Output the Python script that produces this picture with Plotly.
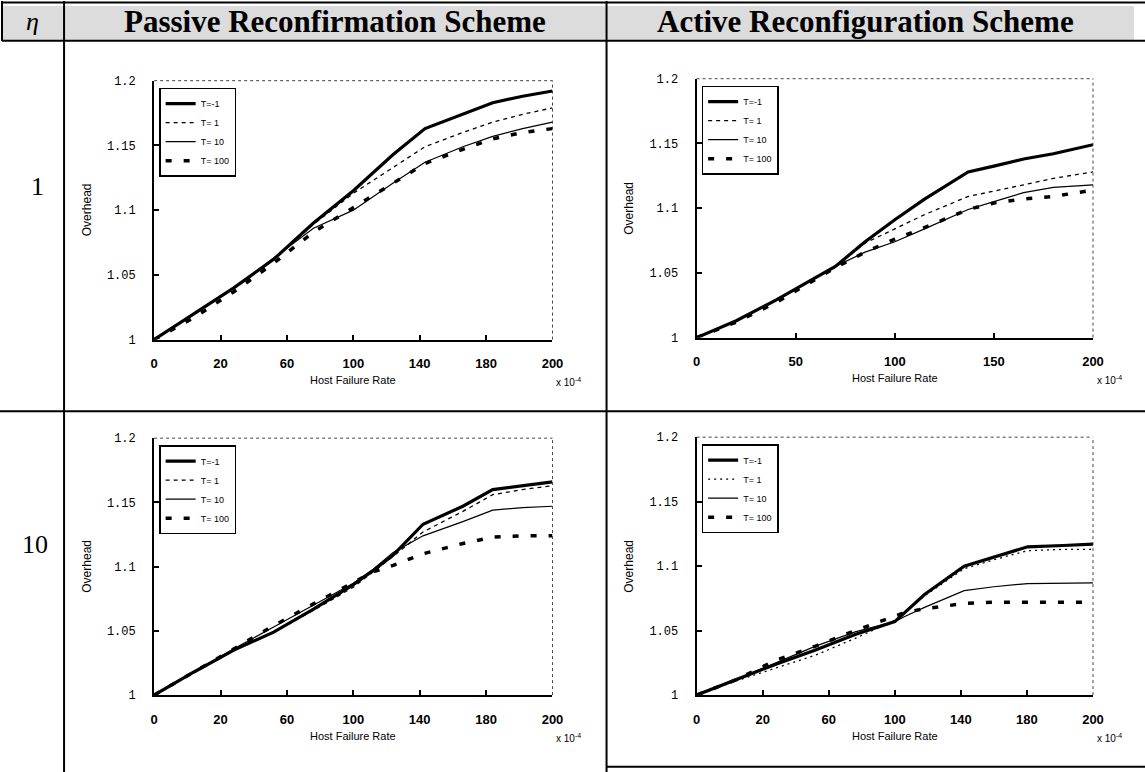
import plotly.graph_objects as go

W, H = 1145, 772

# ---------------- data (Host Failure Rate x 1e-4 -> Overhead) ----------------
series_names = ["T=-1", "T= 1", "T= 10", "T= 100"]

# Passive Reconfirmation Scheme, eta = 1
p1_x = [0, 20, 40, 60, 80, 100, 120, 136, 155, 170, 185, 200]
p1_tm1 = [1.000, 1.020, 1.040, 1.062, 1.090, 1.115, 1.143, 1.163, 1.174, 1.183, 1.188, 1.192]
p1_t1 = [1.000, 1.020, 1.040, 1.062, 1.089, 1.113, 1.133, 1.149, 1.160, 1.168, 1.174, 1.179]
p1_t10 = [1.000, 1.020, 1.040, 1.063, 1.086, 1.100, 1.121, 1.137, 1.149, 1.157, 1.163, 1.168]
p1_t100 = [1.000, 1.017, 1.037, 1.059, 1.083, 1.102, 1.121, 1.136, 1.147, 1.155, 1.160, 1.163]

# Active Reconfiguration Scheme, eta = 1
a1_x = [0, 20, 40, 60, 70, 85, 100, 115, 137, 150, 165, 180, 200]
a1_tm1 = [1.000, 1.013, 1.029, 1.046, 1.055, 1.074, 1.091, 1.107, 1.128, 1.1325, 1.138, 1.142, 1.149]
a1_t1 = [1.000, 1.013, 1.029, 1.046, 1.055, 1.073, 1.084, 1.095, 1.109, 1.113, 1.118, 1.123, 1.128]
a1_t10 = [1.000, 1.013, 1.029, 1.046, 1.055, 1.066, 1.074, 1.084, 1.099, 1.105, 1.112, 1.116, 1.118]
a1_t100 = [1.000, 1.012, 1.027, 1.045, 1.054, 1.066, 1.076, 1.085, 1.099, 1.104, 1.107, 1.109, 1.114]

# Passive Reconfirmation Scheme, eta = 10
p10_x = [0, 20, 40, 60, 80, 100, 110, 120, 135, 155, 170, 185, 200]
p10_tm1 = [1.000, 1.018, 1.035, 1.049, 1.067, 1.086, 1.097, 1.109, 1.133, 1.147, 1.160, 1.163, 1.166]
p10_t1 = [1.000, 1.018, 1.035, 1.049, 1.066, 1.084, 1.096, 1.108, 1.127, 1.143, 1.156, 1.160, 1.163]
p10_t10 = [1.000, 1.018, 1.036, 1.053, 1.070, 1.087, 1.098, 1.111, 1.124, 1.135, 1.144, 1.146, 1.147]
p10_t100 = [1.000, 1.018, 1.036, 1.054, 1.071, 1.088, 1.096, 1.101, 1.110, 1.118, 1.123, 1.124, 1.124]

# Active Reconfiguration Scheme, eta = 10
a10_x = [0, 20, 40, 60, 80, 100, 105, 115, 135, 150, 167, 185, 200]
a10_tm1 = [1.000, 1.012, 1.024, 1.035, 1.047, 1.057, 1.064, 1.078, 1.100, 1.107, 1.115, 1.116, 1.117]
a10_t1 = [1.000, 1.011, 1.021, 1.031, 1.044, 1.058, 1.064, 1.077, 1.098, 1.105, 1.112, 1.113, 1.113]
a10_t10 = [1.000, 1.012, 1.025, 1.038, 1.049, 1.057, 1.061, 1.068, 1.081, 1.084, 1.0865, 1.087, 1.087]
a10_t100 = [1.000, 1.012, 1.027, 1.038, 1.050, 1.061, 1.064, 1.067, 1.071, 1.072, 1.072, 1.072, 1.072]

# tick labels
passive_tickvals = [0, 200 / 6, 400 / 6, 100, 800 / 6, 1000 / 6, 200]
passive_ticktext = ["0", "20", "60", "100", "140", "180", "200"]
active1_tickvals = [0, 50, 100, 150, 200]
active1_ticktext = ["0", "50", "100", "150", "200"]
ytick_vals = [1.0, 1.05, 1.1, 1.15, 1.2]
ytick_text = ["1", "1.05", "1.1", "1.15", "1.2"]

# ---------------- layout helpers ----------------
# target positions are given in screenshot pixels; compensate the small
# offset / shrink applied when the page is photographed
OFF, SC = 5.0, 0.986

def px(x):
    return ((x - OFF) / SC) / W

def py(y):
    return 1 - ((y - OFF) / SC) / H

# subplot boxes in pixels: left, right, top, bottom
boxes = [
    (155, 553, 80, 340),
    (697, 1093, 78, 338),
    (155, 553, 439, 697),
    (697, 1093, 438, 697),
]

panels = [
    (p1_x, [p1_tm1, p1_t1, p1_t10, p1_t100], passive_tickvals, passive_ticktext),
    (a1_x, [a1_tm1, a1_t1, a1_t10, a1_t100], active1_tickvals, active1_ticktext),
    (p10_x, [p10_tm1, p10_t1, p10_t10, p10_t100], passive_tickvals, passive_ticktext),
    (a10_x, [a10_tm1, a10_t1, a10_t10, a10_t100], passive_tickvals, passive_ticktext),
]

dash_t1 = ["4px,4px", "4px,4px", "4px,4px", "2px,4px"]

fig = go.Figure()
layout = dict(
    width=W, height=H,
    margin=dict(l=0, r=0, t=0, b=0),
    paper_bgcolor="white", plot_bgcolor="white",
    showlegend=True,
    shapes=[], annotations=[],
)

def ann(text, x, y, size, family="Liberation Sans", angle=0):
    return dict(text=text, xref="paper", yref="paper", x=px(x), y=py(y),
                showarrow=False, xanchor="center", yanchor="middle", textangle=angle,
                font=dict(family=family, size=size, color="black"))

for i, (xs, ys, tv, tt) in enumerate(panels):
    k = i + 1
    sfx = "" if k == 1 else str(k)
    xa, ya = "x" + sfx, "y" + sfx
    lg = "legend" + sfx
    styles = [
        dict(color="black", width=3.2),
        dict(color="black", width=1.3, dash=dash_t1[i]),
        dict(color="black", width=1.2),
        dict(color="black", width=3.5, dash="6px,12px"),
    ]
    for name, yv, st in zip(series_names, ys, styles):
        fig.add_trace(go.Scatter(
            x=xs, y=yv, mode="lines", name=name, line=st,
            xaxis=xa, yaxis=ya, legend=lg,
        ))
    l, r, t, b = boxes[i]
    layout["xaxis" + sfx] = dict(
        domain=[px(l), px(r)], anchor=ya, range=[0, 200],
        tickmode="array", tickvals=tv, ticktext=tt,
        showline=True, linecolor="black", linewidth=2, mirror=False,
        ticks="inside", ticklen=5, tickwidth=1.5, tickcolor="black",
        showgrid=False, zeroline=False, ticklabelstandoff=11,
        tickfont=dict(family="Liberation Sans", size=13, color="black", weight="bold"),
    )
    layout["yaxis" + sfx] = dict(
        domain=[py(b), py(t)], anchor=xa, range=[1.0, 1.2],
        tickmode="array", tickvals=ytick_vals, ticktext=ytick_text,
        showline=True, linecolor="black", linewidth=2, mirror=False,
        ticks="inside", ticklen=5, tickwidth=1.5, tickcolor="black",
        showgrid=False, zeroline=False, ticklabelstandoff=14,
        tickfont=dict(family="Liberation Mono", size=12, color="black"),
    )
    layout[lg] = dict(
        x=px(l + 5), y=py(t + 7), xanchor="left", yanchor="top",
        xref="paper", yref="paper",
        bgcolor="white", bordercolor="black", borderwidth=1.5,
        font=dict(family="Liberation Sans", size=9, color="black"),
        tracegroupgap=0, itemwidth=30,
    )
    # dotted top / right frame
    layout["shapes"] += [
        dict(type="line", xref=xa + " domain", yref=ya + " domain", x0=0, x1=1, y0=1, y1=1,
             line=dict(color="#444", width=1, dash="dot")),
        dict(type="line", xref=xa + " domain", yref=ya + " domain", x0=1, x1=1, y0=0, y1=1,
             line=dict(color="#444", width=1, dash="dot")),
    ]
    # axis titles
    layout["annotations"] += [
        ann("Overhead", l - 67, (t + b) / 2, 12, angle=-90),
        ann("Host Failure Rate", (l + r) / 2, b + 41, 11),
        ann("x 10<sup>-4</sup>", r + 16, b + 43, 10),
    ]

# ---------------- table frame ----------------
COL_ETA = 65
COL_MID = 607
ROW_HEAD = 40
ROW_MID = 412

def pline(x0, y0, x1, y1, w=2):
    return dict(type="line", xref="paper", yref="paper",
                x0=px(x0), y0=py(y0), x1=px(x1), y1=py(y1),
                line=dict(color="black", width=w))

layout["shapes"] = [
    dict(type="rect", xref="paper", yref="paper", x0=px(3), x1=1, y0=py(ROW_HEAD), y1=1,
         fillcolor="#dcdcdc", line=dict(width=0), layer="below"),
] + layout["shapes"] + [
    pline(3, 1.5, 1150, 1.5, 2),
    pline(3, ROW_HEAD, 1150, ROW_HEAD, 2),
    pline(3, 0, 3, ROW_HEAD, 2),
    pline(COL_ETA, 0, COL_ETA, 780, 2),
    pline(COL_MID, 0, COL_MID, 780, 2),
    pline(0, ROW_MID, 1150, ROW_MID, 2),
    pline(COL_MID, 769, 1150, 769, 2),
]

layout["annotations"] += [
    ann("<i>η</i>", 33, 21, 26, family="Liberation Serif"),
    ann("<b>Passive Reconfirmation Scheme</b>", 336, 21, 31, family="Liberation Serif"),
    ann("<b>Active Reconfiguration Scheme</b>", 866, 21, 31, family="Liberation Serif"),
    ann("1", 38, 186, 26, family="Liberation Serif"),
    ann("10", 36, 546, 26, family="Liberation Serif"),
]

fig.update_layout(**layout)
fig.write_html(
    "out.html",
    config={"displayModeBar": False},
    post_script=(
        "document.documentElement.style.overflow='hidden';"
        "document.body.style.overflow='hidden';"
        "document.body.style.margin='0px';"
        "document.body.style.padding='0px';"
    ),
)
